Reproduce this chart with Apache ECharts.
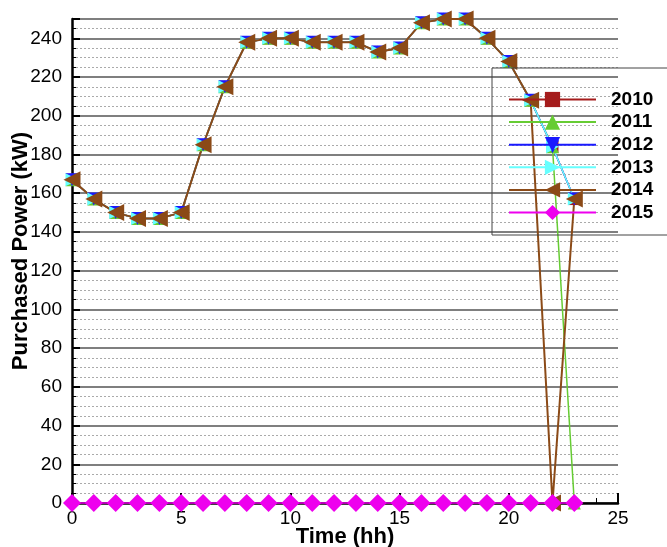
<!DOCTYPE html>
<html>
<head>
<meta charset="utf-8">
<script src="https://cdn.jsdelivr.net/npm/echarts@6/dist/echarts.min.js"></script>
<style>
  html, body { margin: 0; padding: 0; background: #fff; }
  #chart { width: 667px; height: 547px; }
</style>
</head>
<body>
<div id="chart"></div>
<script>
// hours of the day
const hours = [0, 1, 2, 3, 4, 5, 6, 7, 8, 9, 10, 11, 12, 13, 14, 15, 16, 17, 18, 19, 20, 21, 22, 23];

// purchased power per year (kW)
const p2010 = [167, 157, 150, 147, 147, 150, 185, 215, 238, 240, 240, 238, 238, 238, 233, 235, 248, 250, 250, 240, 228, 208, 184, 157];
const p2011 = [167, 157, 150, 147, 147, 150, 185, 215, 238, 240, 240, 238, 238, 238, 233, 235, 248, 250, 250, 240, 228, 208, 184, 0];
const p2012 = [167, 157, 150, 147, 147, 150, 185, 215, 238, 240, 240, 238, 238, 238, 233, 235, 248, 250, 250, 240, 228, 208, 184, 157];
const p2013 = [167, 157, 150, 147, 147, 150, 185, 215, 238, 240, 240, 238, 238, 238, 233, 235, 248, 250, 250, 240, 228, 208, 184, 157];
const p2014 = [167, 157, 150, 147, 147, 150, 185, 215, 238, 240, 240, 238, 238, 238, 233, 235, 248, 250, 250, 240, 228, 208, 0, 157];
const p2015 = [0, 0, 0, 0, 0, 0, 0, 0, 0, 0, 0, 0, 0, 0, 0, 0, 0, 0, 0, 0, 0, 0, 0, 0];

const years = ['2010', '2011', '2012', '2013', '2014', '2015'];
const values = [p2010, p2011, p2012, p2013, p2014, p2015];

const colors = ['#a51c1c', '#66cc33', '#1a1aff', '#66ffff', '#8b4a17', '#ee00ee'];
const symbols = ['rect', 'triangle', 'triangle', 'triangle', 'triangle', 'diamond'];
const rotates = [0, 0, 180, -90, 90, 0];
const sizes = [12, 13, 13, 13, 17, 18];

const font = 'Liberation Sans, Arial, sans-serif';

const chart = echarts.init(document.getElementById('chart'));

const series = years.map((y, i) => ({
    name: y,
    type: 'line',
    data: hours.map((h, j) => [h, values[i][j]]),
    symbol: symbols[i],
    symbolRotate: rotates[i],
    symbolSize: sizes[i],
    showAllSymbol: true,
    clip: false,
    color: colors[i],
    lineStyle: {width: i === 4 ? 2 : 1.5, color: colors[i]},
    itemStyle: {color: colors[i]}
}));

chart.setOption({
    animation: false,
    grid: {left: 72, right: 49, top: 19, bottom: 44, outerBoundsMode: 'none'},
    legend: {
        orient: 'vertical',
        left: 492,
        top: 68,
        padding: [22, 40, 13, 16],
        itemWidth: 87,
        itemHeight: 19,
        itemGap: 3.6,
        borderColor: '#444',
        borderWidth: 1,
        textStyle: {fontSize: 19, fontWeight: 'bold', color: '#000', fontFamily: font, padding: [0, 0, 0, 10]},
        data: years
    },
    xAxis: {
        type: 'value',
        min: 0,
        max: 25,
        interval: 5,
        z: 3,
        name: 'Time (hh)',
        nameLocation: 'middle',
        nameGap: 23,
        nameMoveOverlap: false,
        nameTextStyle: {fontSize: 22, fontWeight: 'bold', color: '#000', fontFamily: font},
        axisLine: {lineStyle: {color: '#000', width: 2.5}},
        axisTick: {inside: true, length: 10, lineStyle: {color: '#000', width: 2}},
        minorTick: {show: true, splitNumber: 5, length: 5, lineStyle: {color: '#000', width: 1}},
        axisLabel: {fontSize: 19, color: '#000', fontFamily: font, margin: 6},
        splitLine: {show: false}
    },
    yAxis: {
        type: 'value',
        min: 0,
        max: 250,
        interval: 20,
        name: 'Purchased Power (kW)',
        nameLocation: 'middle',
        nameGap: 40,
        nameMoveOverlap: false,
        nameTextStyle: {fontSize: 22, fontWeight: 'bold', color: '#000', fontFamily: font, padding: [0, 0, 0, 20]},
        axisLine: {show: true, lineStyle: {color: '#000', width: 2.5}},
        axisTick: {show: true, inside: true, length: 8, lineStyle: {color: '#000', width: 2}},
        minorTick: {show: true, splitNumber: 4, length: 4, lineStyle: {color: '#000', width: 1}},
        axisLabel: {fontSize: 19, color: '#000', fontFamily: font, margin: 10, showMaxLabel: false},
        splitLine: {show: true, lineStyle: {color: '#555', width: 1.5}},
        minorSplitLine: {show: true, lineStyle: {color: '#aaa', width: 1, type: [2, 2]}}
    },
    series: series
});
</script>
</body>
</html>
